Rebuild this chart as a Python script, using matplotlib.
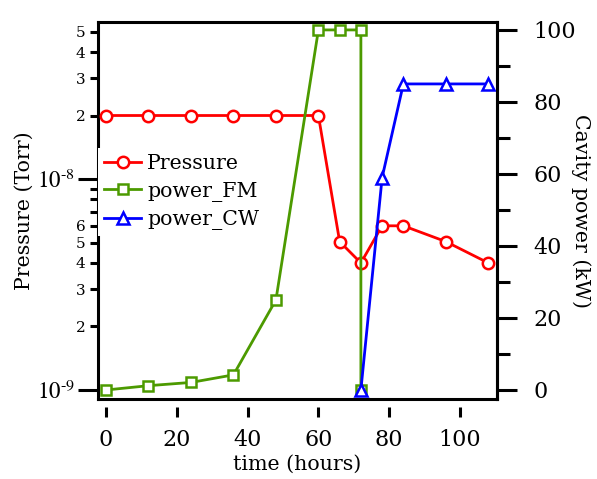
#!/usr/bin/env python3
"""Pressure and cavity power vs time (log pressure on left, power on right)."""

import matplotlib

matplotlib.use("Agg")
import matplotlib.pyplot as plt
from matplotlib.ticker import FixedLocator, FixedFormatter, NullFormatter

plt.rcParams["font.family"] = "DejaVu Serif"
plt.rcParams["mathtext.fontset"] = "stix"

# data
p_time = [0, 12, 24, 36, 48, 60, 66, 72, 78, 84, 96, 108]
pressure = [2e-8, 2e-8, 2e-8, 2e-8, 2e-8, 2e-8, 5.05e-9, 4.0e-9, 6.0e-9, 6.0e-9, 5.05e-9, 4.0e-9]

fm_time = [0, 12, 24, 36, 48, 60, 66, 72, 72]
power_fm = [0, 1.2, 2.1, 4.2, 25, 100, 100, 100, 0]

cw_time = [72, 78, 84, 96, 108]
power_cw = [0, 59, 85, 85, 85]

x_ticks = [0, 20, 40, 60, 80, 100]
p_major = [1e-9, 1e-8]
p_major_labels = ["$10^{\u20109}$", "$10^{\u20108}$"]
p_minor = [2e-9, 3e-9, 4e-9, 5e-9, 6e-9, 7e-9, 8e-9, 9e-9, 2e-8, 3e-8, 4e-8, 5e-8]
p_minor_labels = ["2", "3", "4", "5", "6", "", "", "", "2", "3", "4", "5"]
pw_major = [0, 20, 40, 60, 80, 100]
pw_minor = [10, 30, 50, 70, 90]

RED = "#ff0000"
GREEN = "#4c9a00"
BLUE = "#0000ff"

LABEL_FS = 14.8
TICK_FS = 16

fig = plt.figure(figsize=(5.97, 4.79), dpi=100)
ax = fig.add_axes([98 / 597, 80 / 479, 399 / 597, 377 / 479])
ax2 = ax.twinx()

lw = 2.0
mew = 1.8
l1, = ax.plot(p_time, pressure, color=RED, lw=lw, marker="o", ms=8.2,
              mfc="white", mec=RED, mew=mew, label="Pressure", clip_on=False, zorder=3)
l2, = ax2.plot(fm_time, power_fm, color=GREEN, lw=lw, marker="s", ms=7,
               mfc="white", mec=GREEN, mew=mew, label="power_FM", clip_on=False)
l3, = ax2.plot(cw_time, power_cw, color=BLUE, lw=lw, marker="^", ms=8.5,
               mfc="white", mec=BLUE, mew=mew, label="power_CW", clip_on=False)

ax.set_yscale("log")
ax.set_xlim(-2.26, 110.45)
ax.set_ylim(9.06e-10, 5.55e-8)
ax2.set_ylim(-2.5, 102.2)

# left (log) axis
ax.yaxis.set_major_locator(FixedLocator(p_major))
ax.yaxis.set_major_formatter(FixedFormatter(p_major_labels))
ax.yaxis.set_minor_locator(FixedLocator(p_minor))
ax.yaxis.set_minor_formatter(FixedFormatter(p_minor_labels))
ax.tick_params(axis="y", which="major", direction="out", length=14.5, width=2.2,
               labelsize=16.5, pad=2)
ax.tick_params(axis="y", which="minor", direction="out", length=6, width=2.2,
               labelsize=11, pad=3)
ax.tick_params(axis="x", bottom=False, labelbottom=False, top=False)
ax.set_ylabel("Pressure (Torr)", fontsize=LABEL_FS)
ax.yaxis.set_label_coords(-0.16, 0.5)

# bottom axis drawn a little below the frame
sec = ax.secondary_xaxis(-8 / 377)
sec.spines["bottom"].set_visible(False)
sec.set_xticks(x_ticks)
sec.tick_params(direction="out", length=7.5, width=2.2, labelsize=TICK_FS, pad=8)
sec.set_xlabel("time (hours)", fontsize=LABEL_FS, labelpad=3)

# right (linear) axis
ax2.yaxis.set_major_locator(FixedLocator(pw_major))
ax2.yaxis.set_minor_locator(FixedLocator(pw_minor))
ax2.yaxis.set_minor_formatter(NullFormatter())
ax2.tick_params(axis="y", which="major", direction="out", length=14.5, width=2.2,
                labelsize=TICK_FS, pad=12)
ax2.tick_params(axis="y", which="minor", direction="out", length=9.5, width=2.2)
ax2.set_ylabel("Cavity power (kW)", fontsize=LABEL_FS, rotation=270)
ax2.yaxis.set_label_coords(1.235, 0.5)

for a in (ax, ax2):
    for s in a.spines.values():
        s.set_linewidth(2.2)
ax2.spines["left"].set_visible(False)
ax2.spines["top"].set_visible(False)
ax2.spines["bottom"].set_visible(False)

leg = ax2.legend(handles=[l1, l2, l3], loc="upper left",
                 bbox_to_anchor=(0.0, 0.665), borderaxespad=0, fontsize=LABEL_FS,
                 frameon=True, fancybox=False, framealpha=1, edgecolor="none",
                 handlelength=1.8, handletextpad=0.3, labelspacing=0.4,
                 borderpad=0.3)
leg.set_zorder(10)

fig.savefig("out.png", dpi=100)
